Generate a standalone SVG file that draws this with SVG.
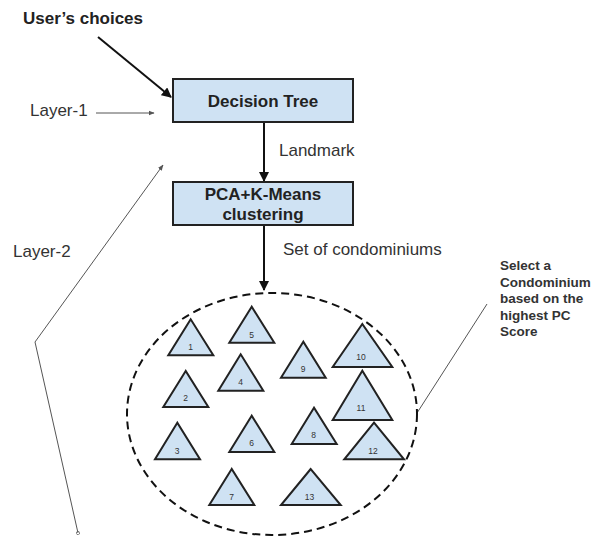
<svg xmlns="http://www.w3.org/2000/svg" width="601" height="537" viewBox="0 0 601 537">
  <style>
    .box { fill: #cfe2f3; stroke: #222; stroke-width: 2; }
    .tri { fill: #cfe2f3; stroke: #222; stroke-width: 2; stroke-linejoin: miter; }
    .title { font-family: "Liberation Sans", Arial, sans-serif; font-weight: bold; font-size: 17px; fill: #222; }
    .label { font-family: "Liberation Sans", Arial, sans-serif; font-size: 17px; fill: #333; }
    .note { font-family: "Liberation Sans", Arial, sans-serif; font-weight: bold; font-size: 13.5px; fill: #333; }
    .num { font-family: "Liberation Sans", Arial, sans-serif; font-size: 8.5px; fill: #333; text-anchor: middle; }
    .main { stroke: #111; stroke-width: 2; fill: none; }
    .thin { stroke: #555; stroke-width: 1; fill: none; }
  </style>
  <defs>
    <marker id="head" viewBox="0 0 10 10" refX="9" refY="5" markerWidth="5" markerHeight="5" orient="auto" markerUnits="strokeWidth">
      <path d="M0,0 L10,5 L0,10 z" fill="#111"/>
    </marker>
    <marker id="thinHead" viewBox="0 0 10 10" refX="9" refY="5" markerWidth="6" markerHeight="6" orient="auto" markerUnits="strokeWidth">
      <path d="M0,1 L10,5 L0,9 z" fill="#555"/>
    </marker>
    <marker id="dot" viewBox="0 0 6 6" refX="3" refY="3" markerWidth="4" markerHeight="4" orient="auto" markerUnits="strokeWidth">
      <circle cx="3" cy="3" r="2.5" fill="none" stroke="#555" stroke-width="1"/>
    </marker>
  </defs>

  <!-- connectors -->
  <g id="connectors">
    <line class="main" x1="98" y1="37" x2="171" y2="97" marker-end="url(#head)"/>
    <line class="main" x1="264" y1="123" x2="264" y2="181" marker-end="url(#head)"/>
    <line class="main" x1="264" y1="226" x2="264" y2="290" marker-end="url(#head)"/>
    <line class="thin" x1="96" y1="113" x2="154" y2="113" marker-end="url(#thinHead)"/>
    <polyline class="thin" points="78,533 35,342 163,165" marker-start="url(#dot)" marker-end="url(#thinHead)"/>
    <line class="thin" x1="487" y1="304" x2="417" y2="413"/>
  </g>

  <!-- free labels -->
  <text class="title" x="23" y="24">User’s choices</text>
  <text class="label" x="30" y="116">Layer-1</text>
  <text class="label" x="13" y="257">Layer-2</text>
  <text class="label" x="279" y="156">Landmark</text>
  <text class="label" x="283" y="255">Set of condominiums</text>

  <g id="decision-tree">
    <rect class="box" x="173" y="79" width="180" height="43"/>
    <text class="title" x="263" y="107" text-anchor="middle">Decision Tree</text>
  </g>

  <g id="pca-kmeans">
    <rect class="box" x="173" y="182" width="180" height="43"/>
    <text class="title" x="263" y="200" text-anchor="middle">PCA+K-Means</text>
    <text class="title" x="263" y="220" text-anchor="middle">clustering</text>
  </g>

  <g id="condominium-set">
    <ellipse cx="272" cy="414" rx="145" ry="121" fill="none" stroke="#111" stroke-width="2" stroke-dasharray="8,5"/>
    <g id="c1"><polygon class="tri" points="190.7,319.3 168.3,355.3 213.3,355.3"/><text class="num" x="190.5" y="350">1</text></g>
    <g id="c5"><polygon class="tri" points="251.7,306.7 229.3,342.7 274.3,342.7"/><text class="num" x="251.7" y="338">5</text></g>
    <g id="c2"><polygon class="tri" points="185.7,371 163.3,407 208.3,407"/><text class="num" x="185.5" y="401">2</text></g>
    <g id="c4"><polygon class="tri" points="240.7,354.3 218.3,390.7 263.3,390.7"/><text class="num" x="240.7" y="385">4</text></g>
    <g id="c9"><polygon class="tri" points="303.3,341.7 281,377.7 325.7,377.7"/><text class="num" x="303" y="372">9</text></g>
    <g id="c10"><polygon class="tri" points="362.3,324 332.7,367 392.3,367"/><text class="num" x="361" y="360">10</text></g>
    <g id="c11"><polygon class="tri" points="362.3,370.7 332.7,420 392.3,420"/><text class="num" x="361" y="410.5">11</text></g>
    <g id="c3"><polygon class="tri" points="177.3,422.7 155,459.3 200,459.3"/><text class="num" x="177" y="453.5">3</text></g>
    <g id="c6"><polygon class="tri" points="251.7,415.7 229.3,452 274.3,452"/><text class="num" x="251.7" y="446">6</text></g>
    <g id="c8"><polygon class="tri" points="314,407.7 291.7,444 336.7,444"/><text class="num" x="313.5" y="438">8</text></g>
    <g id="c12"><polygon class="tri" points="374,422.7 344.3,459.3 404,459.3"/><text class="num" x="373" y="453.5">12</text></g>
    <g id="c7"><polygon class="tri" points="231.7,469 209.3,505 254.3,505"/><text class="num" x="231.7" y="499.5">7</text></g>
    <g id="c13"><polygon class="tri" points="310.7,469 281,505 340.7,505"/><text class="num" x="309.5" y="499.5">13</text></g>
  </g>

  <g id="selection-note">
    <text class="note" x="500" y="270">Select a</text>
    <text class="note" x="500" y="287">Condominium</text>
    <text class="note" x="500" y="303">based on the</text>
    <text class="note" x="500" y="320">highest PC</text>
    <text class="note" x="500" y="336">Score</text>
  </g>
</svg>
